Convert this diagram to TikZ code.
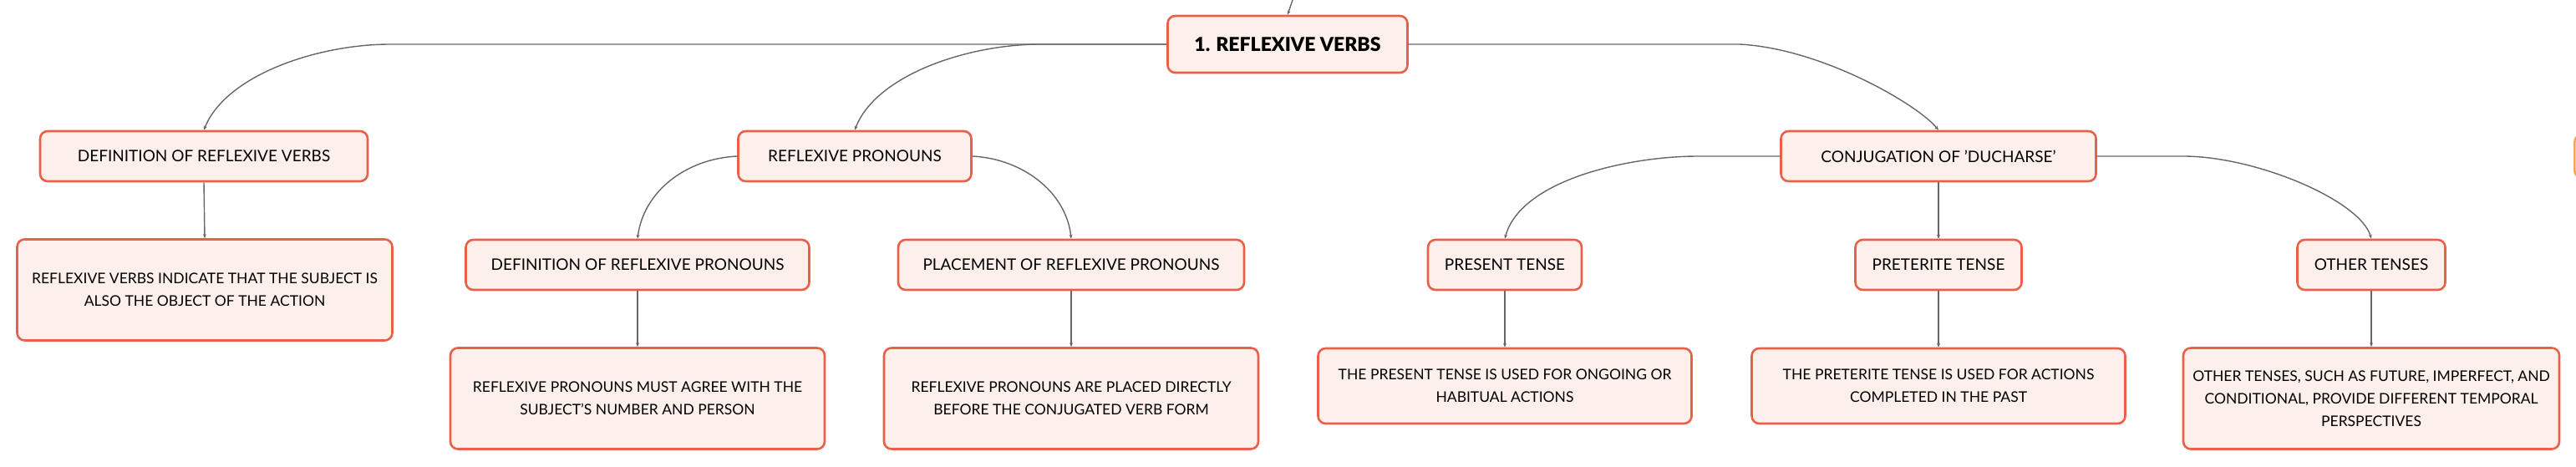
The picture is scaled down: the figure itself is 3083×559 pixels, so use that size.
\documentclass[tikz,border=0pt]{standalone}
\usepackage{fontspec}
\setmainfont{Lato}
\newfontfamily\heavyfont{Lato Black}
\usetikzlibrary{arrows.meta}
\definecolor{boxred}{HTML}{E8604A}
\definecolor{boxfill}{HTML}{FDF0EB}
\definecolor{linegray}{HTML}{666666}
\definecolor{sliver}{HTML}{F0A860}
\tikzset{
  mbox/.style={draw=boxred, fill=boxfill, line width=2.6pt, rounded corners=9pt,
    align=center, inner sep=0pt, text=black},
  lbl/.style={mbox, minimum height=60pt, font=\fontsize{19}{23}\selectfont},
  txt/.style={mbox, font=\fontsize{17.5}{27}\selectfont},
  conn/.style={draw=linegray, line width=1.4pt, -{Stealth[length=5pt,width=4pt]}}
}
\begin{document}
\begin{tikzpicture}[x=1pt,y=-1pt]
\useasboundingbox (0,0) rectangle (3083,559);
% nodes
\node[mbox, minimum width=287pt, minimum height=68pt, font=\heavyfont\fontsize{23}{27}\selectfont] (root) at (1541,53) {1. REFLEXIVE VERBS};
\node[lbl, minimum width=392pt] (def) at (244,187) {DEFINITION OF REFLEXIVE VERBS};
\node[lbl, minimum width=279pt] (rp) at (1023,187) {REFLEXIVE PRONOUNS};
\node[lbl, minimum width=377pt] (conj) at (2320,187) {CONJUGATION OF 'DUCHARSE'};
\node[lbl, minimum width=411pt] (drp) at (763,317) {DEFINITION OF REFLEXIVE PRONOUNS};
\node[lbl, minimum width=414pt] (prp) at (1282,317) {PLACEMENT OF REFLEXIVE PRONOUNS};
\node[lbl, minimum width=184pt] (pres) at (1801,317) {PRESENT TENSE};
\node[lbl, minimum width=199pt] (pret) at (2320,317) {PRETERITE TENSE};
\node[lbl, minimum width=177pt] (oth) at (2838,317) {OTHER TENSES};
\node[txt, minimum width=449pt, minimum height=121pt] (defT) at (245,347) {REFLEXIVE VERBS INDICATE THAT THE SUBJECT IS\\ALSO THE OBJECT OF THE ACTION};
\node[txt, minimum width=448pt, minimum height=121pt] (drpT) at (763,477) {REFLEXIVE PRONOUNS MUST AGREE WITH THE\\SUBJECT'S NUMBER AND PERSON};
\node[txt, minimum width=448pt, minimum height=121pt] (prpT) at (1282,477) {REFLEXIVE PRONOUNS ARE PLACED DIRECTLY\\BEFORE THE CONJUGATED VERB FORM};
\node[txt, minimum width=447pt, minimum height=90pt] (presT) at (1801,462) {THE PRESENT TENSE IS USED FOR ONGOING OR\\HABITUAL ACTIONS};
\node[txt, minimum width=447pt, minimum height=90pt] (pretT) at (2320,462) {THE PRETERITE TENSE IS USED FOR ACTIONS\\COMPLETED IN THE PAST};
\node[txt, minimum width=450pt, minimum height=121pt] (othT) at (2838,477) {OTHER TENSES, SUCH AS FUTURE, IMPERFECT, AND\\CONDITIONAL, PROVIDE DIFFERENT TEMPORAL\\PERSPECTIVES};
\node[draw=sliver, fill=white, line width=2.6pt, rounded corners=9pt, minimum width=80pt, minimum height=52pt, anchor=west] (edge) at (3080,187) {};
% connectors
\coordinate (topin) at (1547,0);
\draw[conn] (topin) -- (root.north);
\draw[conn] (root.west) -- (467,53) .. controls (380,53) and (270,90) .. (def.north);
\draw[conn] (root.west) -- (1245,53) .. controls (1158,53) and (1048,90) .. (rp.north);
\draw[conn] (root.east) -- (2082,53) .. controls (2180,58) and (2295,125) .. (conj.north);
\draw[conn] (rp.west) .. controls (820,190) and (770,230) .. (drp.north);
\draw[conn] (rp.east) .. controls (1224,190) and (1276,230) .. (prp.north);
\draw[conn] (conj.west) -- (2032,187) .. controls (1950,187) and (1820,215) .. (pres.north);
\draw[conn] (conj.east) -- (2613,187) .. controls (2700,187) and (2825,240) .. (oth.north);
\draw[conn] (conj.south) -- (pret.north);
\draw[conn] (def.south) -- (defT.north);
\draw[conn] (drp.south) -- (drpT.north);
\draw[conn] (prp.south) -- (prpT.north);
\draw[conn] (pres.south) -- (presT.north);
\draw[conn] (pret.south) -- (pretT.north);
\draw[conn] (oth.south) -- (othT.north);
\end{tikzpicture}
\end{document}
